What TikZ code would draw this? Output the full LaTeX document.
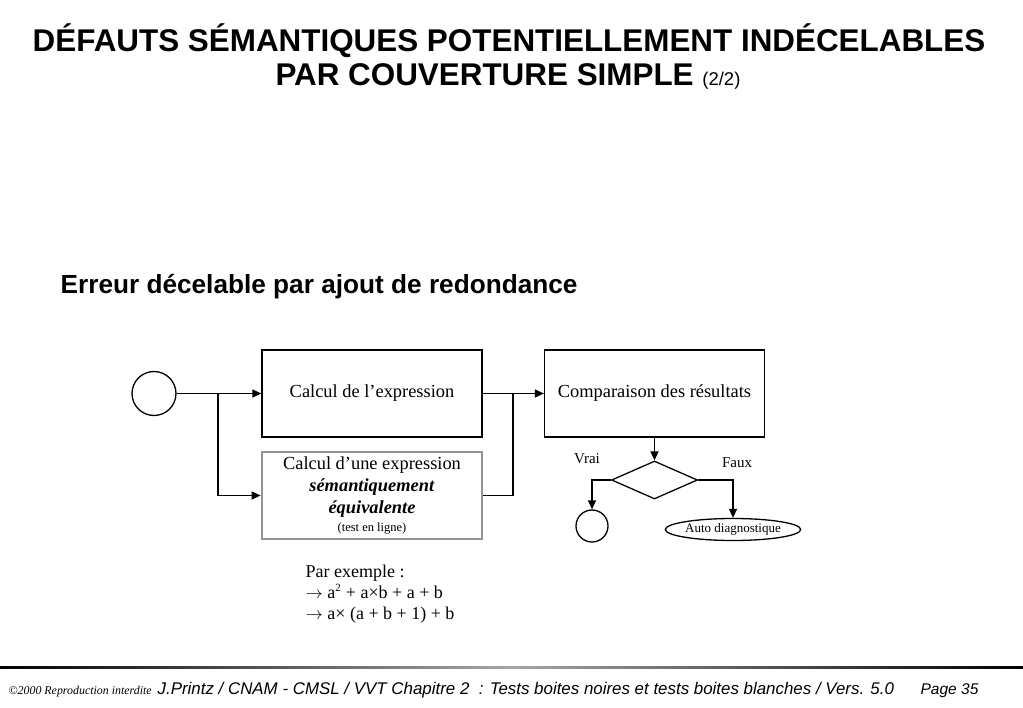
\documentclass[tikz,border=0pt]{standalone}
\usepackage{fontspec}
\setmainfont{Liberation Serif}
\newfontfamily\headfont{Liberation Sans}
\usetikzlibrary{shapes.geometric,arrows.meta}

\begin{document}
\begin{tikzpicture}[x=1pt,y=-1pt,
    line width=1.3pt,
    >={Triangle[length=9pt,width=8pt]},
    procbox/.style={draw,rectangle,minimum width=220pt,minimum height=87pt,
                    inner sep=2pt,align=center,font=\fontsize{18.4}{21}\selectfont},
    label/.style={font=\fontsize{15}{17}\selectfont}]
    \useasboundingbox (0,0) rectangle (1023,708);
    % titles
    \node[anchor=base,font=\headfont\bfseries\fontsize{31.4}{35}\selectfont] (title1) at (509,52)
        {DÉFAUTS SÉMANTIQUES POTENTIELLEMENT INDÉCELABLES};
    \node[anchor=base,font=\headfont\bfseries\fontsize{31.4}{35}\selectfont] (title2) at (508,86)
        {PAR COUVERTURE SIMPLE {\mdseries\fontsize{18.5}{22}\selectfont (2/2)}};
    \node[anchor=base west,inner sep=0,font=\headfont\bfseries\fontsize{26.2}{30}\selectfont] (sub) at (60,294)
        {Erreur décelable par ajout de redondance};
    % diagram
    \node[circle,draw,minimum size=44pt,inner sep=0] (start) at (154,393.5) {};
    \node[procbox] (calc) at (372,393.5) {Calcul de l’expression};
    \node[procbox,draw=black!42,line width=2.8pt,inner ysep=0pt] (redond) at (372,495.5)
        {Calcul d’une expression\\[1pt]
         \textbf{\textit{sémantiquement}}\\[1pt]
         \textbf{\textit{équivalente}}\\[-3pt]
         {\fontsize{12.5}{14}\selectfont (test en ligne)}};
    \node[procbox] (compar) at (654.5,393.5) {Comparaison des résultats};
    \node[diamond,draw,aspect=2.26,minimum width=86pt,minimum height=38pt,inner sep=0] (test) at (654.5,480) {};
    \node[circle,draw,minimum size=32pt,inner sep=0] (stop) at (592,526) {};
    \node[ellipse,draw,minimum width=130pt,minimum height=22pt,inner sep=0,
          font=\fontsize{13}{15}\selectfont] (diag) at (733,529.5) {Auto diagnostique};
    \node[label] (vrai) at (587,459) {Vrai};
    \node[label] (faux) at (737,463) {Faux};
    \coordinate (split) at (218,393.5);
    \coordinate (merge) at (513,393.5);
    \draw[->] (start.east) -- (calc.west);
    \draw[->] (split) |- (redond.west);
    \draw[->] (calc.east) -- (compar.west);
    \draw (redond.east) -| (merge);
    \draw[->] (compar.south) -- (test.north);
    \draw[->] (test.west) -| (stop.north);
    \draw[->] (test.east) -| (diag.north);
    % example
    \node[anchor=north west,align=left,inner sep=0,font=\fontsize{18}{21}\selectfont] (example) at (305,564)
        {Par exemple :\\
         $\rightarrow$ a\textsuperscript{\fontsize{11}{11}\selectfont 2} + a×b + a + b\\
         $\rightarrow$ a× (a + b + 1) + b};
    % footer
    \shade[left color=black,right color=black,middle color=black!35] (0,666.5) rectangle (1023,668.5);
    \node[anchor=base west,inner sep=0,font=\itshape\fontsize{11.9}{13}\selectfont] (copy) at (8,694)
        {©2000 Reproduction interdite};
    \node[anchor=base west,inner sep=0,font=\headfont\itshape\fontsize{16.9}{19}\selectfont] (foot) at (157,694)
        {J.Printz / CNAM - CMSL / VVT Chapitre 2\ \ : Tests boites noires et tests boites blanches / Vers. 5.0};
    \node[anchor=base west,inner sep=0,font=\headfont\itshape\fontsize{15.5}{18}\selectfont] (page) at (920,694)
        {Page 35};
\end{tikzpicture}
\end{document}
